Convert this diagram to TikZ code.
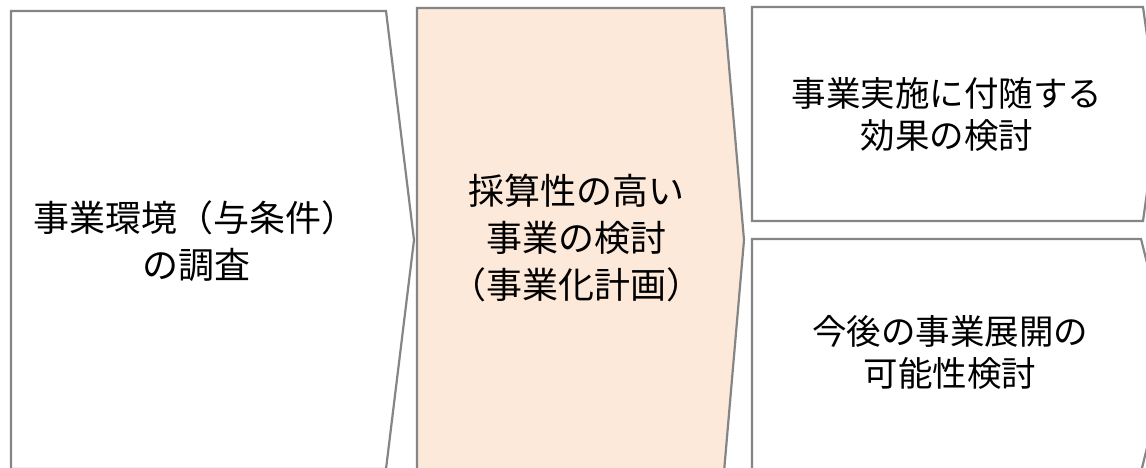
\documentclass[tikz,border=0pt]{standalone}
\usepackage{fontspec}
\setmainfont{Noto Sans CJK JP}
\definecolor{edgegray}{HTML}{858585}
\definecolor{peach}{HTML}{FDE9DA}
\tikzset{
  stage/.style={draw=edgegray, line width=2.2pt, line join=miter},
  bigtxt/.style={align=center, inner sep=0pt, font=\fontsize{36}{47}\selectfont},
  smalltxt/.style={align=center, inner sep=0pt, font=\fontsize{34.5}{42}\selectfont}
}
\begin{document}
\begin{tikzpicture}[x=1pt,y=-1pt]
\useasboundingbox (0,0) rectangle (1146,468);
\clip (0,0) rectangle (1146,468);
\fill[white] (0,0) rectangle (1146,468);
% shapes
\draw[stage, fill=white] (11,11) -- (386,11) -- (414,240) -- (386,469) -- (11,469) -- cycle;
\draw[stage, fill=peach] (417,8) -- (724,8) -- (744,240) -- (724,472) -- (417,472) -- cycle;
\draw[stage, fill=white] (752,7) -- (1143,7) -- (1158,114) -- (1143,221) -- (752,221) -- cycle;
\draw[stage, fill=white] (752,239) -- (1141,239) -- (1170,355) -- (1141,472) -- (752,472) -- cycle;
% texts
\node[bigtxt] (t1) at (196,241) {事業環境（与条件）\\の調査};
\node[bigtxt] (t2) at (576,238) {採算性の高い\\事業の検討\\（事業化計画）};
\node[smalltxt] (t3) at (947,114) {事業実施に付随する\\効果の検討};
\node[smalltxt] (t4) at (950,352) {今後の事業展開の\\可能性検討};
\end{tikzpicture}
\end{document}
